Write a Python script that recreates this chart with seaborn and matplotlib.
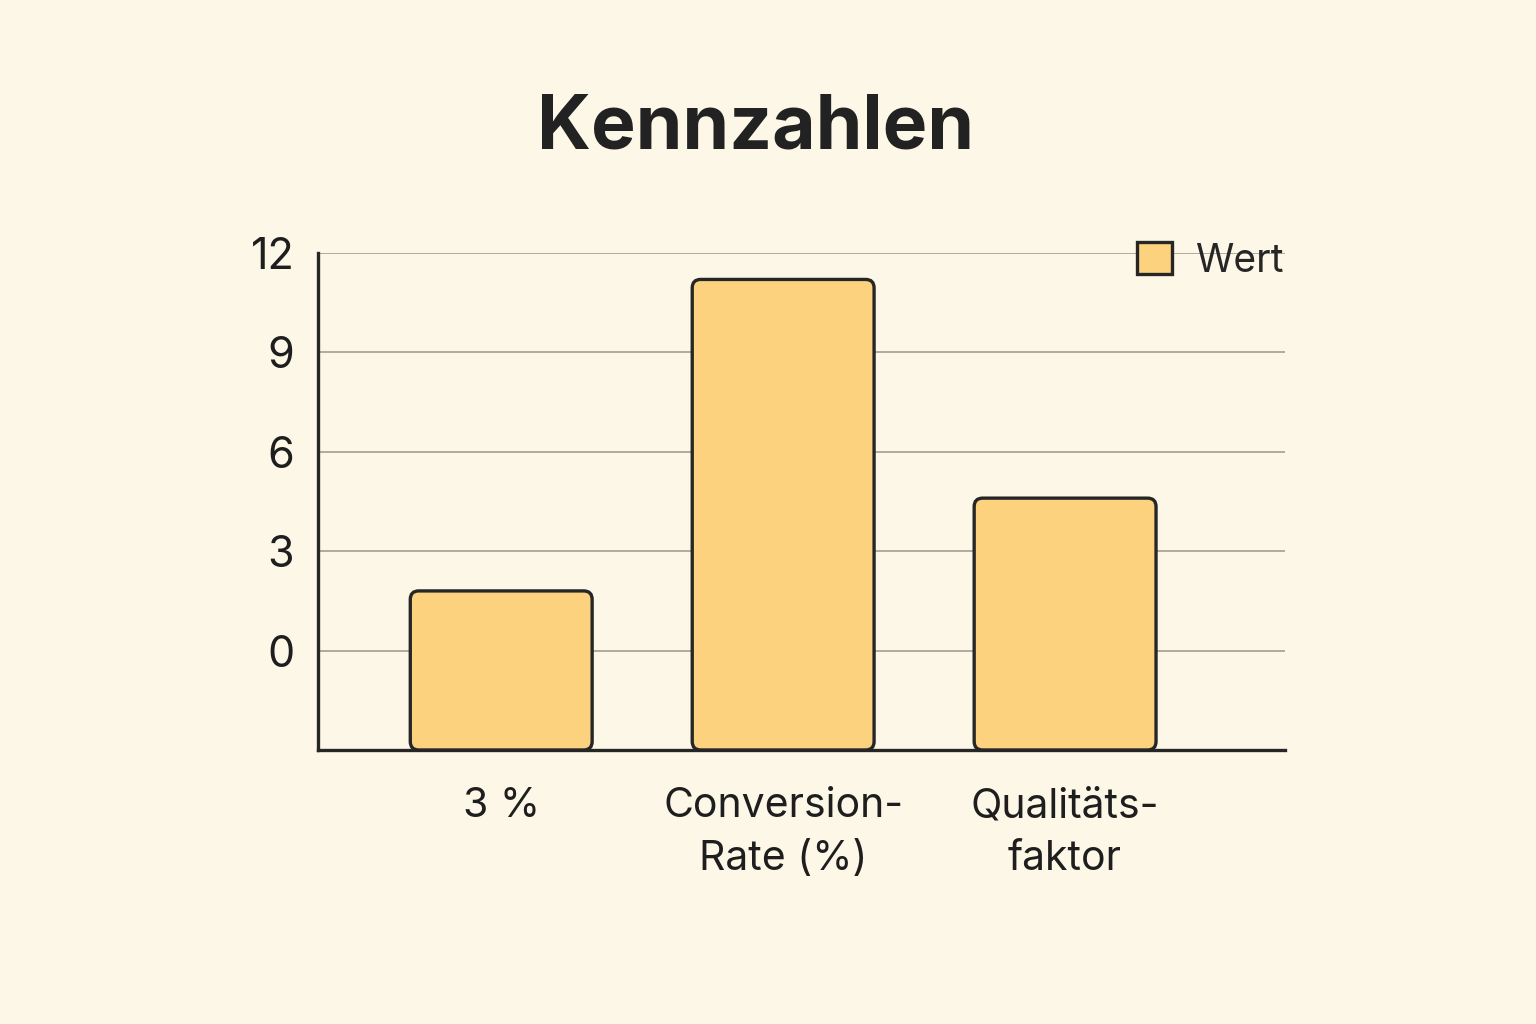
import numpy as np
import pandas as pd
import matplotlib
matplotlib.use("Agg")
import matplotlib.pyplot as plt
from matplotlib.patches import FancyBboxPatch, Patch
import seaborn as sns

# Datos del grafico
kategorien = ["3 %", "Conversion-\nRate (%)", "Qualitäts-\nfaktor"]
werte = [1.8, 11.2, 4.6]
y_ticks = [0, 3, 6, 9, 12]
basis = -3  # las barras arrancan desde el borde inferior del eje

fondo = "#FDF7E7"
barra = "#FCD27F"
borde = "#262626"

sns.set_theme(style="white")
plt.rcParams["font.family"] = ["Inter", "DejaVu Sans"]

df = pd.DataFrame({"kategorie": kategorien, "wert": werte})
df["hoehe"] = df["wert"] - basis

fig = plt.figure(figsize=(15.36, 10.24), dpi=100, facecolor=fondo)
ax = fig.add_axes([0.207, 0.2676, 0.6296, 0.4854])
ax.set_facecolor(fondo)

sns.barplot(data=df, x="kategorie", y="hoehe", bottom=basis, color=barra,
            saturation=1, width=0.645, edgecolor=borde, linewidth=2.4, ax=ax,
            zorder=3)

# Esquinas redondeadas
for p in list(ax.patches):
    x, y = p.get_x(), p.get_y()
    w, h = p.get_width(), p.get_height()
    p.remove()
    ax.add_patch(FancyBboxPatch((x, y), w, h,
                                boxstyle="round,pad=0,rounding_size=0.03",
                                mutation_aspect=8.5, facecolor=barra,
                                edgecolor=borde, linewidth=2.4, zorder=3))

ax.set_xlim(-0.65, 2.78)
ax.set_ylim(basis, 12)
ax.set_yticks(y_ticks)
ax.set_yticklabels([str(t) for t in y_ticks], fontsize=31, color="#1e1e1e")
ax.set_xticks(range(len(kategorien)))
ax.set_xticklabels(kategorien, fontsize=29.5, color="#1e1e1e", linespacing=1.5)
ax.tick_params(axis="y", length=0, pad=17)
ax.tick_params(axis="x", length=0, pad=27)
ax.set_xlabel("")
ax.set_ylabel("")

ax.yaxis.grid(True, color="#a9a598", linewidth=1.3, zorder=0)
ax.set_axisbelow(True)

for s in ["top", "right"]:
    ax.spines[s].set_visible(False)
for s in ["left", "bottom"]:
    ax.spines[s].set_color(borde)
    ax.spines[s].set_linewidth(2.4)

handle = Patch(facecolor=barra, edgecolor=borde, linewidth=2.4)
leg = ax.legend([handle], ["Wert"], loc="upper right", bbox_to_anchor=(1.035, 1.092),
                frameon=False, fontsize=28, handlelength=0.9, handleheight=0.9,
                handletextpad=0.6)

fig.text(0.492, 0.874, "Kennzahlen", ha="center", va="center",
         fontsize=54, fontweight="bold", color="#222222")

fig.savefig("out.png", dpi=100, facecolor=fondo)
